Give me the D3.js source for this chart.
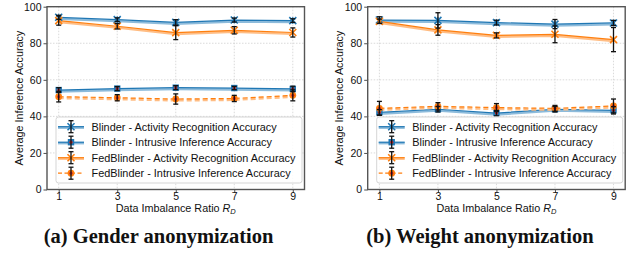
<!DOCTYPE html>
<html>
<head>
<meta charset="utf-8">
<script src="https://cdn.jsdelivr.net/npm/d3@7"></script>
<style>
  body { margin: 0; background: #fff; }
  svg { display: block; }
</style>
</head>
<body>
<script>
// x positions (data imbalance ratio)
const ratios = [1, 3, 5, 7, 9];
const yTicks = [0, 20, 40, 60, 80, 100];

const seriesNames = [
    "Blinder - Activity Recognition Accuracy",
    "Blinder - Intrusive Inference Accuracy",
    "FedBlinder - Activity Recognition Accuracy",
    "FedBlinder - Intrusive Inference Accuracy"
];

// (a) Gender anonymization
const genderBlinderAct = [94.2, 92.9, 91.4, 92.7, 92.4];
const genderBlinderActErr = [1.1, 1.0, 1.5, 1.1, 1.0];
const genderBlinderIntr = [54.4, 55.2, 55.7, 55.5, 55.0];
const genderBlinderIntrErr = [1.3, 1.1, 1.1, 0.9, 1.5];
const genderFedAct = [92.4, 89.3, 85.8, 87.1, 85.9];
const genderFedActErr = [2.5, 1.5, 3.8, 2.0, 2.5];
const genderFedIntr = [50.8, 50.2, 49.5, 49.8, 51.5];
const genderFedIntrErr = [2.9, 1.7, 2.8, 1.7, 3.0];

// (b) Weight anonymization
const weightBlinderAct = [92.7, 92.5, 91.3, 90.5, 91.1];
const weightBlinderActErr = [1.8, 4.2, 1.3, 2.5, 1.4];
const weightBlinderIntr = [42.2, 43.9, 41.8, 43.9, 43.3];
const weightBlinderIntrErr = [1.5, 1.5, 1.5, 1.5, 2.0];
const weightFedAct = [92.0, 87.3, 84.3, 84.9, 82.0];
const weightFedActErr = [1.2, 2.9, 1.4, 4.6, 6.6];
const weightFedIntr = [44.4, 45.5, 44.8, 44.4, 45.7];
const weightFedIntrErr = [3.8, 2.0, 2.2, 1.6, 3.8];

const captions = ["(a) Gender anonymization", "(b) Weight anonymization"];

const W = 644, H = 254;
const svg = d3.select("body").append("svg")
    .attr("width", W)
    .attr("height", H);

const blue = "#1f77b4", blueLight = "#8dbbdb";
const orange = "#ff7f0e", orangeLight = "#ffbd84";
const red = "#d62728";
const font = "'Liberation Sans', Arial, sans-serif";

function marker(g, kind, cx, cy) {
    if (kind === "star" || kind === "x") {
        const c = kind === "star" ? blue : orange;
        const s = 3.5;
        g.append("path")
            .attr("d", `M${cx - s},${cy - s}L${cx + s},${cy + s}M${cx - s},${cy + s}L${cx + s},${cy - s}`)
            .attr("stroke", c).attr("stroke-width", 1.6).attr("fill", "none");
        if (kind === "star") {
            g.append("path")
                .attr("d", `M${cx},${cy - s}L${cx},${cy + s}`)
                .attr("stroke", c).attr("stroke-width", 1.2);
        }
    } else if (kind === "square") {
        g.append("rect")
            .attr("x", cx - 3.2).attr("y", cy - 3.2)
            .attr("width", 6.4).attr("height", 6.4)
            .attr("fill", blue);
        g.append("circle").attr("cx", cx).attr("cy", cy).attr("r", 1.6).attr("fill", red);
    } else {
        g.append("circle").attr("cx", cx).attr("cy", cy).attr("r", 3.4).attr("fill", orange);
        g.append("circle").attr("cx", cx).attr("cy", cy).attr("r", 1.6).attr("fill", red);
    }
}

function errorBar(g, cx, yTop, yBot) {
    g.append("line")
        .attr("x1", cx).attr("x2", cx).attr("y1", yTop).attr("y2", yBot)
        .attr("stroke", "#111").attr("stroke-width", 1.3);
    [yTop, yBot].forEach(yy => {
        g.append("line")
            .attr("x1", cx - 2.5).attr("x2", cx + 2.5).attr("y1", yy).attr("y2", yy)
            .attr("stroke", "#111").attr("stroke-width", 1.3);
    });
}

function drawPanel(left, series, caption, capX) {
    const right = left + 257.5;
    const top = 6.7, bottom = 189.5;

    const x = d3.scaleLinear().domain([0.6, 9.4]).range([left, right]);
    const y = d3.scaleLinear().domain([0, 100]).range([bottom, top]);

    const g = svg.append("g");

    // grid
    g.append("g").selectAll("line.gx").data(ratios).join("line")
        .attr("x1", d => x(d)).attr("x2", d => x(d))
        .attr("y1", top).attr("y2", bottom)
        .attr("stroke", "#d0d0d0").attr("stroke-width", 0.8)
        .attr("stroke-dasharray", "1.5,1.5");
    g.append("g").selectAll("line.gy").data(yTicks).join("line")
        .attr("x1", left).attr("x2", right)
        .attr("y1", d => y(d)).attr("y2", d => y(d))
        .attr("stroke", "#d0d0d0").attr("stroke-width", 0.8)
        .attr("stroke-dasharray", "1.5,1.5");

    // axes
    const xAxis = g.append("g")
        .attr("transform", `translate(0,${bottom})`)
        .call(d3.axisBottom(x).tickValues(ratios).tickSize(3.5).tickPadding(0));
    const yAxis = g.append("g")
        .attr("transform", `translate(${left},0)`)
        .call(d3.axisLeft(y).tickValues(yTicks).tickSize(3.5).tickPadding(2));
    [xAxis, yAxis].forEach(a => {
        a.select(".domain").remove();
        a.selectAll("line").attr("stroke", "#222").attr("stroke-width", 0.8);
        a.selectAll("text")
            .attr("fill", "#111")
            .style("font-family", font)
            .style("font-size", "10.5px");
    });

    // lines
    const lineGen = off => d3.line()
        .x((d, i) => x(ratios[i]))
        .y(d => y(d) + off);

    series.forEach(s => {
        const light = s.color === blue ? blueLight : orangeLight;
        g.append("path").datum(s.values)
            .attr("d", lineGen(1.4))
            .attr("fill", "none")
            .attr("stroke", light).attr("stroke-width", 2.4)
            .attr("stroke-dasharray", s.dashed ? "5,3" : null);
        g.append("path").datum(s.values)
            .attr("d", lineGen(0))
            .attr("fill", "none")
            .attr("stroke", s.color).attr("stroke-width", 1.2)
            .attr("stroke-dasharray", s.dashed ? "5,3" : null);
    });

    series.forEach(s => {
        s.values.forEach((v, i) => {
            marker(g, s.marker, x(ratios[i]), y(v));
        });
    });
    series.forEach(s => {
        s.values.forEach((v, i) => {
            errorBar(g, x(ratios[i]), y(v + s.err[i]), y(v - s.err[i]));
        });
    });

    // frame
    g.append("rect")
        .attr("x", left).attr("y", top)
        .attr("width", right - left).attr("height", bottom - top)
        .attr("fill", "none").attr("stroke", "#555").attr("stroke-width", 1.4);

    // legend
    const lg = g.append("g").attr("transform", `translate(${left + 9},117)`);
    lg.append("rect")
        .attr("x", 0).attr("y", 0).attr("width", 246).attr("height", 66)
        .attr("rx", 2.5)
        .attr("fill", "#fff").attr("fill-opacity", 0.85)
        .attr("stroke", "#d5d5d5").attr("stroke-width", 1);
    series.forEach((s, i) => {
        const yy = 9.7 + i * 15.5;
        const light = s.color === blue ? blueLight : orangeLight;
        if (!s.dashed) {
            lg.append("line")
                .attr("x1", 2).attr("x2", 28).attr("y1", yy + 1).attr("y2", yy + 1)
                .attr("stroke", light).attr("stroke-width", 2.4);
        }
        lg.append("line")
            .attr("x1", 2).attr("x2", 28).attr("y1", yy).attr("y2", yy)
            .attr("stroke", s.color).attr("stroke-width", 1.2)
            .attr("stroke-dasharray", s.dashed ? "4,2.5" : null);
        marker(lg, s.marker, 15, yy);
        errorBar(lg, 15, yy - 6, yy + 6);
        lg.append("text")
            .attr("x", 35.5).attr("y", yy + 3.8)
            .style("font-family", font)
            .style("font-size", "10.9px")
            .attr("fill", "#111")
            .text(s.name);
    });

    // axis labels
    const xl = g.append("text")
        .attr("x", (left + right) / 2).attr("y", 211.5)
        .attr("text-anchor", "middle")
        .style("font-family", font).style("font-size", "10.8px")
        .attr("fill", "#111");
    xl.append("tspan").text("Data Imbalance Ratio ");
    xl.append("tspan").style("font-style", "italic").text("R");
    xl.append("tspan").style("font-style", "italic").style("font-size", "7.5px")
        .attr("dy", 2.5).text("D");

    g.append("text")
        .attr("transform", `translate(${left - 24.5},${(top + bottom) / 2}) rotate(-90)`)
        .attr("text-anchor", "middle")
        .style("font-family", font).style("font-size", "10.8px")
        .attr("fill", "#111")
        .text("Average Inference Accuracy");

    // caption
    g.append("text")
        .attr("x", capX).attr("y", 242.5)
        .attr("text-anchor", "middle")
        .style("font-family", "'Liberation Serif', 'Times New Roman', serif")
        .style("font-weight", "bold")
        .style("font-size", "20.5px")
        .attr("fill", "#111")
        .text(caption);
}

function makeSeries(bAct, bActE, bIntr, bIntrE, fAct, fActE, fIntr, fIntrE) {
    return [
        { name: seriesNames[0], values: bAct, err: bActE, color: blue, marker: "star", dashed: false },
        { name: seriesNames[1], values: bIntr, err: bIntrE, color: blue, marker: "square", dashed: false },
        { name: seriesNames[2], values: fAct, err: fActE, color: orange, marker: "x", dashed: false },
        { name: seriesNames[3], values: fIntr, err: fIntrE, color: orange, marker: "dot", dashed: true }
    ];
}

drawPanel(47, makeSeries(genderBlinderAct, genderBlinderActErr, genderBlinderIntr, genderBlinderIntrErr,
    genderFedAct, genderFedActErr, genderFedIntr, genderFedIntrErr), captions[0], 158.5);
drawPanel(367.7, makeSeries(weightBlinderAct, weightBlinderActErr, weightBlinderIntr, weightBlinderIntrErr,
    weightFedAct, weightFedActErr, weightFedIntr, weightFedIntrErr), captions[1], 480);
</script>
</body>
</html>
